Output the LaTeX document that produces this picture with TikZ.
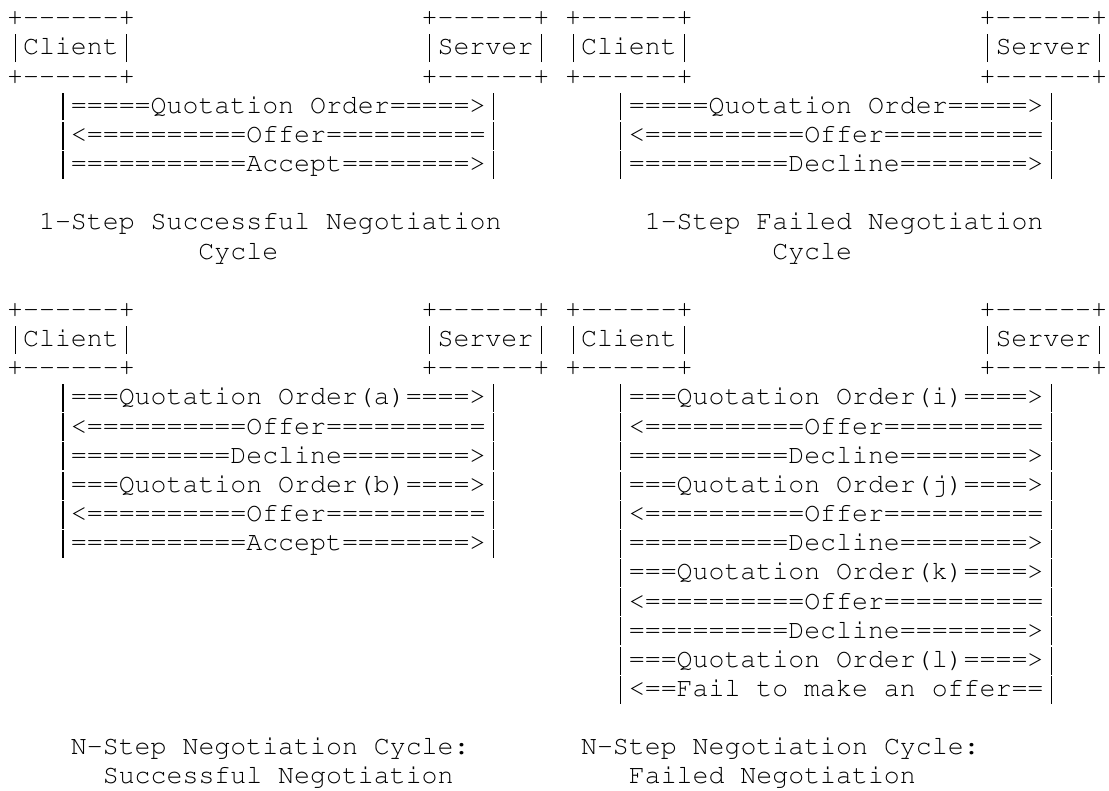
\documentclass[tikz,border=0pt]{standalone}
\usepackage[T1]{fontenc}
\newcommand\vb{\makebox[0.6em]{\rule[-0.27em]{0.042em}{1.05em}}}
\begin{document}
\begin{tikzpicture}[x=11.955pt,y=-21.87pt,
  ln/.style={anchor=base west, inner sep=0pt, outer sep=0pt,
    font=\fontsize{19.93}{21}\fontfamily{pcr}\selectfont}]
\useasboundingbox[fill=white] (-0.452,-0.885) rectangle (69.12,26.24);
% ---------- 1-step successful ----------
\node[ln] (ac0) at (0,0) {+-{}-{}-{}-{}-{}-+};
\node[ln] (ac1) at (0,1) {\vb Client\vb};
\node[ln] (ac2) at (0,2) {+-{}-{}-{}-{}-{}-+};
\node[ln] (as0) at (26,0) {+-{}-{}-{}-{}-{}-+};
\node[ln] (as1) at (26,1) {\vb Server\vb};
\node[ln] (as2) at (26,2) {+-{}-{}-{}-{}-{}-+};
\node[ln] (am1) at (3,3) {\vb=====Quotation Order=====>\vb};
\node[ln] (am2) at (3,4) {\vb<==========Offer==========\vb};
\node[ln] (am3) at (3,5) {\vb===========Accept========>\vb};
\node[ln] (acap1) at (2,7) {1-Step Successful Negotiation};
\node[ln] (acap2) at (12,8) {Cycle};
% ---------- 1-step failed ----------
\node[ln] (bc0) at (35,0) {+-{}-{}-{}-{}-{}-+};
\node[ln] (bc1) at (35,1) {\vb Client\vb};
\node[ln] (bc2) at (35,2) {+-{}-{}-{}-{}-{}-+};
\node[ln] (bs0) at (61,0) {+-{}-{}-{}-{}-{}-+};
\node[ln] (bs1) at (61,1) {\vb Server\vb};
\node[ln] (bs2) at (61,2) {+-{}-{}-{}-{}-{}-+};
\node[ln] (bm1) at (38,3) {\vb=====Quotation Order=====>\vb};
\node[ln] (bm2) at (38,4) {\vb<==========Offer==========\vb};
\node[ln] (bm3) at (38,5) {\vb==========Decline========>\vb};
\node[ln] (bcap1) at (40,7) {1-Step Failed Negotiation};
\node[ln] (bcap2) at (48,8) {Cycle};
% ---------- N-step successful ----------
\node[ln] (cc0) at (0,10) {+-{}-{}-{}-{}-{}-+};
\node[ln] (cc1) at (0,11) {\vb Client\vb};
\node[ln] (cc2) at (0,12) {+-{}-{}-{}-{}-{}-+};
\node[ln] (cs0) at (26,10) {+-{}-{}-{}-{}-{}-+};
\node[ln] (cs1) at (26,11) {\vb Server\vb};
\node[ln] (cs2) at (26,12) {+-{}-{}-{}-{}-{}-+};
\node[ln] (cm1) at (3,13) {\vb===Quotation Order(a)====>\vb};
\node[ln] (cm2) at (3,14) {\vb<==========Offer==========\vb};
\node[ln] (cm3) at (3,15) {\vb==========Decline========>\vb};
\node[ln] (cm4) at (3,16) {\vb===Quotation Order(b)====>\vb};
\node[ln] (cm5) at (3,17) {\vb<==========Offer==========\vb};
\node[ln] (cm6) at (3,18) {\vb===========Accept========>\vb};
\node[ln] (ccap1) at (4,25) {N-Step Negotiation Cycle:};
\node[ln] (ccap2) at (6,26) {Successful Negotiation};
% ---------- N-step failed ----------
\node[ln] (dc0) at (35,10) {+-{}-{}-{}-{}-{}-+};
\node[ln] (dc1) at (35,11) {\vb Client\vb};
\node[ln] (dc2) at (35,12) {+-{}-{}-{}-{}-{}-+};
\node[ln] (ds0) at (61,10) {+-{}-{}-{}-{}-{}-+};
\node[ln] (ds1) at (61,11) {\vb Server\vb};
\node[ln] (ds2) at (61,12) {+-{}-{}-{}-{}-{}-+};
\node[ln] (dm1) at (38,13) {\vb===Quotation Order(i)====>\vb};
\node[ln] (dm2) at (38,14) {\vb<==========Offer==========\vb};
\node[ln] (dm3) at (38,15) {\vb==========Decline========>\vb};
\node[ln] (dm4) at (38,16) {\vb===Quotation Order(j)====>\vb};
\node[ln] (dm5) at (38,17) {\vb<==========Offer==========\vb};
\node[ln] (dm6) at (38,18) {\vb==========Decline========>\vb};
\node[ln] (dm7) at (38,19) {\vb===Quotation Order(k)====>\vb};
\node[ln] (dm8) at (38,20) {\vb<==========Offer==========\vb};
\node[ln] (dm9) at (38,21) {\vb==========Decline========>\vb};
\node[ln] (dm10) at (38,22) {\vb===Quotation Order(l)====>\vb};
\node[ln] (dm11) at (38,23) {\vb<==Fail to make an offer==\vb};
\node[ln] (dcap1) at (36,25) {N-Step Negotiation Cycle:};
\node[ln] (dcap2) at (39,26) {Failed Negotiation};
\end{tikzpicture}
\end{document}
